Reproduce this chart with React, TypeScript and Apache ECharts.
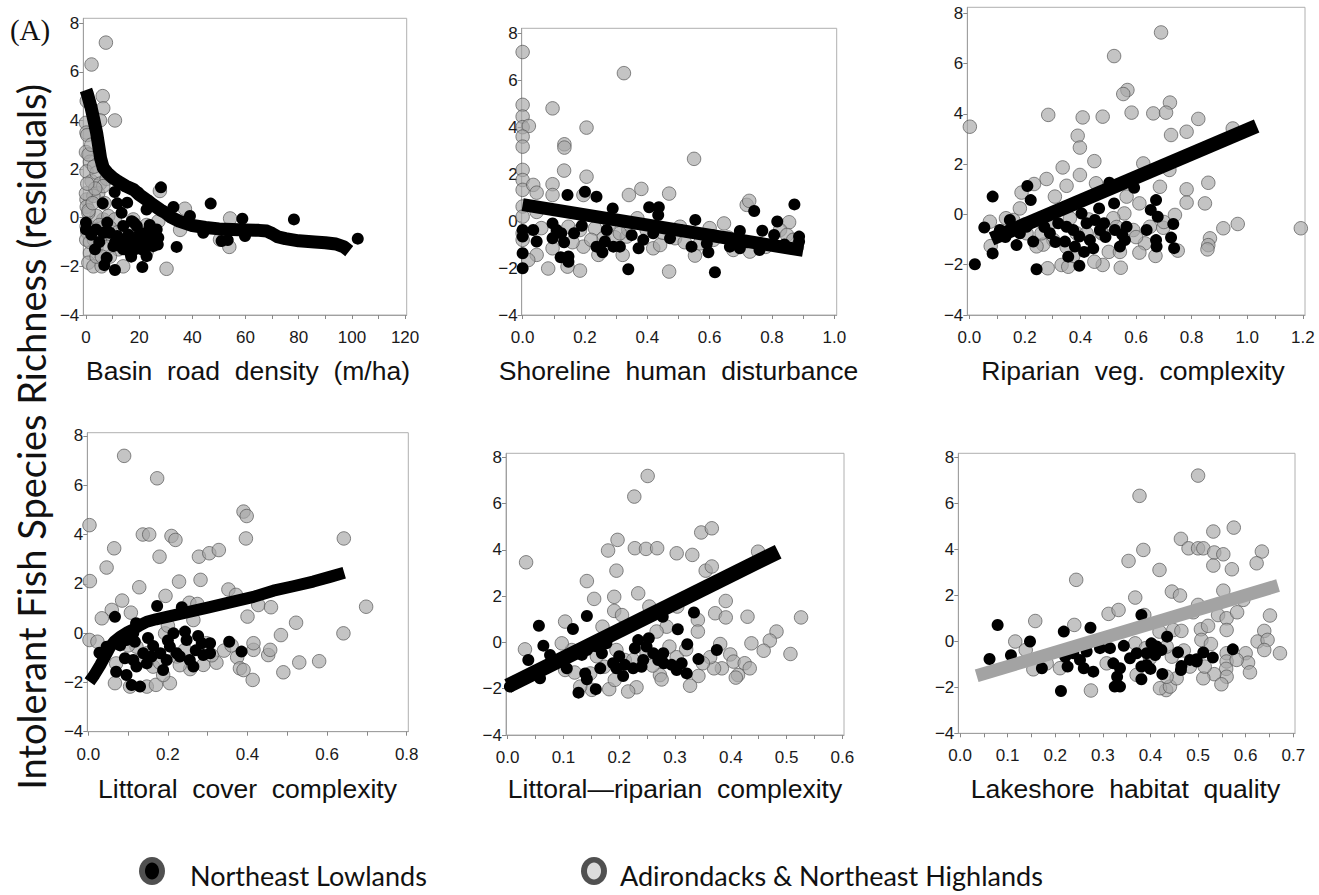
import React, { useEffect, useRef } from "react";
import * as echarts from "echarts";

// ---------- DATA ----------
const yTickLabels = [-4, -2, 0, 2, 4, 6, 8];

const xLabels1 = [0, 20, 40, 60, 80, 100, 120];
const xTicks1 = [0, 10, 20, 30, 40, 50, 60, 70, 80, 90, 100, 110, 120];
const xLabels2 = [0, 0.2, 0.4, 0.6, 0.8, 1.0];
const xTicks2 = [0, 0.1, 0.2, 0.3, 0.4, 0.5, 0.6, 0.7, 0.8, 0.9, 1.0];
const xLabels3 = [0, 0.2, 0.4, 0.6, 0.8, 1.0, 1.2];
const xTicks3 = [0, 0.1, 0.2, 0.3, 0.4, 0.5, 0.6, 0.7, 0.8, 0.9, 1.0, 1.1, 1.2];
const xLabels4 = [0, 0.2, 0.4, 0.6, 0.8];
const xTicks4 = [0, 0.1, 0.2, 0.3, 0.4, 0.5, 0.6, 0.7, 0.8];
const xLabels5 = [0, 0.1, 0.2, 0.3, 0.4, 0.5, 0.6];
const xTicks5 = [0, 0.05, 0.1, 0.15, 0.2, 0.25, 0.3, 0.35, 0.4, 0.45, 0.5, 0.55, 0.6];
const xLabels6 = [0, 0.1, 0.2, 0.3, 0.4, 0.5, 0.6, 0.7];
const xTicks6 = [0, 0.05, 0.1, 0.15, 0.2, 0.25, 0.3, 0.35, 0.4, 0.45, 0.5, 0.55, 0.6, 0.65, 0.7];

const xTitles = [
  "Basin road density (m/ha)",
  "Shoreline human disturbance",
  "Riparian veg. complexity",
  "Littoral cover complexity",
  "Littoral\u2014riparian complexity",
  "Lakeshore habitat quality",
];
const yTitle = "Intolerant Fish Species Richness (residuals)";
const panelTag = "(A)";
const legendNames = ["Northeast Lowlands", "Adirondacks & Northeast Highlands"];

// Panel 1: Basin road density
const p1Gray = [
  [7.5, 7.2], [2.1, 6.3], [6.3, 5.0], [6.5, 4.5], [0.3, 4.8], [10.9, 4.0], [5.3, 4.0], [0, 3.9], [0.2, 3.5],
  [0.5, 3.4], [0, 2.7], [1.5, 2.3], [0.2, 1.9], [2.1, 1.5], [4.0, 1.85], [5.3, 1.4], [7.8, 1.6], [0.2, 0.75],
  [0.3, 0.45], [4.6, 1.0], [6.5, 1.3], [27.8, 1.1], [37.2, 0.37], [54.2, -0.03], [53.9, -1.2], [30.3, -2.1],
  [27.2, -0.15], [22.8, -0.3], [1.5, -1.45], [0.9, -1.85], [2.8, -2.0], [5.9, -2.0], [4.0, -1.2], [5.3, -0.9],
  [7.8, -0.6], [10.3, -0.9], [12.2, -1.3], [9.0, -1.6], [6.5, -0.07], [4.0, 0.07], [8.4, 0.07], [10.9, -0.07],
  [15.3, -0.6], [0.25, -0.35], [0.5, -0.6], [0.1, -0.9], [17.8, -0.07], [20.3, -0.6], [24.1, -0.9], [22.8, -1.4],
  [14.0, -2.0], [35.4, -0.5], [50.4, -0.9], [2.8, 0.9], [4.6, -0.6], [0.9, 0.2], [0, 1.0], [1, 0.3], [2, -0.5],
  [3, -0.9], [4, -1.6], [1.5, -1.0], [2.5, 0.6], [3.5, 1.2], [5, -0.3], [7, 0.6], [8, -1.2], [9, -0.4], [12, -0.6],
  [6, -1.6], [3, 2.1], [1, 2.6], [2, 3.0], [0.5, 1.4],
];
const p1Black = [
  [28.2, 1.25], [46.9, 0.58], [58.8, -0.04], [78.2, -0.07], [102.2, -0.86], [32.9, 0.44], [34.1, -1.2],
  [51.0, -0.96], [53.3, -0.92], [10.8, 1.06], [11.8, 0.59], [15.5, 0.62], [6.3, 0.59], [3.8, -0.48], [0, -0.2],
  [0, -0.48], [6.5, -0.62], [9.0, -0.62], [11.8, -0.75], [13.4, 0.2], [17.2, -0.14], [19.1, -0.34], [20.3, -0.62],
  [17.8, -0.89], [21.6, -0.89], [23.4, -1.17], [25.3, -1.17], [27.2, -0.82], [16.6, -1.44], [18.4, -1.3],
  [22.8, -1.58], [21.2, -2.03], [10.9, -2.15], [7.8, -1.65], [6.9, -1.95], [14.0, -0.34], [15.3, -1.03],
  [12.8, -1.17], [22.8, 0.34], [10.3, -1.17], [24.7, -0.62], [26.6, -0.48], [19.7, 1.03], [39.1, 0.07],
  [44.1, -0.62], [59.8, -0.75], [3.4, -1.3], [2, -0.7], [5, -1.0], [8, -0.2], [11, -1.0], [13, -0.9], [16, -0.7],
  [18, -0.2], [19, -1.1], [23, -0.6], [25, -0.9], [27, -1.1], [21, -1.3], [17, -1.6], [24, -0.3], [14, -1.3],
];
const p1Fit = [
  [0, 5.25], [0.5, 5.1], [1, 4.9], [2, 4.5], [3, 4.0], [4, 3.5], [5, 2.8], [5.5, 2.45], [6.5, 2.05], [8, 1.85],
  [10, 1.65], [12, 1.5], [15, 1.3], [18, 1.15], [20, 0.95], [23, 0.72], [25, 0.55], [28, 0.32], [30, 0.2],
  [32, 0.02], [35, -0.14], [40, -0.32], [45, -0.4], [50, -0.46], [55, -0.48], [60, -0.5], [65, -0.52],
  [68, -0.55], [70, -0.65], [72, -0.78], [75, -0.86], [80, -0.95], [86, -1.0], [90, -1.03], [94, -1.08],
  [97, -1.2], [99, -1.37],
];

// Panel 2: Shoreline human disturbance
const p2Gray = [
  [0.0, 7.2], [0.325, 6.3], [0.0, 4.95], [0.0, 4.45], [0.0, 4.0], [0.02, 4.05], [0.0, 3.6], [0.0, 3.17],
  [0.096, 4.8], [0.205, 3.98], [0.134, 3.27], [0.134, 3.13], [0.133, 2.15], [0.55, 2.65], [0.205, 1.89],
  [0.0, 2.18], [0.0, 1.75], [0.0, 1.33], [0.034, 1.54], [0.045, 1.21], [0.096, 1.57], [0.096, 1.11],
  [0.195, 1.11], [0.341, 1.11], [0.381, 1.37], [0.47, 1.17], [0.719, 0.69], [0.727, 0.86], [0.855, -0.05],
  [0.646, -0.1], [0.0, 0.62], [0.0, 0.19], [0.045, 0.39], [0.147, -0.24], [0.184, -0.38], [0.232, -0.31],
  [0.259, -0.73], [0.296, -0.69], [0.334, -0.66], [0.339, -0.38], [0.368, 0.12], [0.398, -0.38], [0.419, -1.16],
  [0.441, -1.02], [0.489, -0.73], [0.505, -0.24], [0.553, -1.47], [0.47, -2.15], [0.321, -1.44], [0.243, -1.44],
  [0.195, -1.09], [0.184, -2.11], [0.144, -1.94], [0.082, -2.02], [0.096, -1.16], [0.045, -1.44], [0.018, -1.66],
  [0.0, -0.52], [0.0, -0.8], [0.612, -0.8], [0.676, -1.23], [0.729, -1.3], [0.826, -0.38], [0.848, -0.59],
  [0.569, -0.95], [0.868, -0.8], [0.312, -0.52], [0.06, -0.3], [0.11, -0.6], [0.16, -0.9], [0.22, -0.8],
  [0.28, -0.1], [0.45, -0.5], [0.52, -0.9], [0.6, -0.3], [0.66, -0.7], [0.78, -1.1], [0.88, -1.1],
];
const p2Black = [
  [0.144, 1.11], [0.2, 1.25], [0.237, 1.04], [0.289, 0.54], [0.406, 0.59], [0.437, 0.59], [0.435, 0.26],
  [0.554, 0.05], [0.743, 0.43], [0.872, 0.71], [0.817, -0.02], [0.769, -0.41], [0.697, -0.42], [0.887, -0.66],
  [0.887, -0.87], [0.0, -1.37], [0.0, -2.01], [0.0, -0.38], [0.0, -0.66], [0.034, -0.38], [0.045, -0.87],
  [0.096, -0.1], [0.096, -0.73], [0.109, -0.38], [0.124, -0.52], [0.133, -0.9], [0.122, -1.54], [0.147, -1.51],
  [0.147, -1.73], [0.165, -0.52], [0.237, -1.09], [0.256, -1.33], [0.264, -0.87], [0.291, -1.09], [0.312, -1.09],
  [0.339, -2.05], [0.372, -1.16], [0.387, -0.8], [0.419, -0.52], [0.473, -0.73], [0.542, -1.09], [0.591, -0.95],
  [0.596, -1.33], [0.617, -2.18], [0.665, -1.09], [0.697, -1.16], [0.76, -1.23], [0.807, -0.59], [0.27, -0.38],
  [0.505, -0.38], [0.61, -0.6], [0.72, -0.9], [0.84, -1.0], [0.35, -0.6], [0.19, -0.2],
];
const p2Fit = [[0.0, 0.7], [0.9, -1.25]];

// Panel 3: Riparian vegetation complexity
const p3Gray = [
  [0.69, 7.24], [0.521, 6.3], [0.569, 4.95], [0.554, 4.79], [0.722, 4.45], [0.662, 4.02], [0.708, 4.05],
  [0.584, 4.05], [0.824, 3.8], [0.782, 3.29], [0.726, 3.16], [0.284, 3.96], [0.408, 3.86], [0.48, 3.89],
  [0.39, 3.13], [0.398, 2.66], [0.002, 3.49], [0.948, 3.42], [0.45, 2.12], [0.336, 1.87], [0.398, 1.57],
  [0.278, 1.41], [0.233, 1.21], [0.35, 1.14], [0.456, 1.24], [0.626, 2.03], [0.72, 1.77], [0.686, 1.1],
  [0.86, 1.26], [0.782, 1.0], [0.188, 0.87], [0.308, 0.71], [0.566, 0.71], [0.612, 0.44], [0.782, 0.47],
  [0.848, 0.44], [0.914, -0.55], [0.966, -0.38], [1.193, -0.55], [0.866, -0.95], [0.86, -1.22], [0.857, -1.39],
  [0.74, -0.02], [0.698, -0.53], [0.65, -0.49], [0.632, -1.15], [0.612, -1.52], [0.67, -1.65], [0.75, -1.44],
  [0.558, 0.04], [0.59, -0.62], [0.518, -0.15], [0.48, -0.75], [0.502, -1.49], [0.48, -2.01], [0.45, -1.88],
  [0.545, -2.12], [0.542, -1.49], [0.362, -0.15], [0.386, -0.75], [0.332, -2.01], [0.356, -2.08], [0.282, -2.14],
  [0.302, -1.01], [0.266, -1.2], [0.242, -1.27], [0.26, -0.75], [0.206, -0.75], [0.158, -0.22], [0.132, -0.15],
  [0.074, -0.29], [0.077, -1.26], [0.182, 0.24], [0.422, -0.75], [0.374, -1.65], [0.476, -0.75], [0.2, -0.4],
  [0.3, -0.3], [0.43, -0.2], [0.53, -0.5], [0.6, -0.9], [0.7, -0.3], [0.35, -1.3],
];
const p3Black = [
  [0.02, -1.98], [0.054, -0.52], [0.084, 0.71], [0.084, -1.55], [0.209, 1.13], [0.221, 0.57], [0.242, -2.18],
  [0.396, -2.04], [0.356, -1.68], [0.413, -1.49], [0.504, 1.26], [0.593, 1.06], [0.521, 0.44], [0.672, 0.57],
  [0.653, 0.18], [0.678, -0.09], [0.734, -0.38], [0.726, -0.92], [0.737, -1.34], [0.672, -1.02], [0.674, -1.28],
  [0.638, -0.62], [0.566, -0.49], [0.56, -1.02], [0.542, -1.28], [0.524, -0.62], [0.485, -0.35], [0.47, -0.62],
  [0.452, -0.22], [0.467, 0.24], [0.446, -1.35], [0.434, -1.02], [0.404, 0.04], [0.396, -0.88], [0.374, -0.62],
  [0.35, -0.49], [0.38, -1.28], [0.344, -1.08], [0.32, -0.35], [0.29, -0.75], [0.23, -1.08], [0.206, -0.49],
  [0.182, -0.75], [0.17, -1.22], [0.146, -0.22], [0.158, -0.62], [0.11, -0.62], [0.422, -0.35], [0.13, -0.9],
  [0.27, -0.5], [0.31, -1.1], [0.49, -0.9], [0.55, -0.8],
];
const p3Fit = [[0.08, -0.97], [1.034, 3.52]];

// Panel 4: Littoral cover complexity
const p4Gray = [
  [0.09, 7.19], [0.173, 6.28], [0.39, 4.93], [0.398, 4.75], [0.003, 4.38], [0.137, 4.0], [0.153, 4.0],
  [0.209, 3.94], [0.219, 3.78], [0.396, 3.84], [0.642, 3.84], [0.065, 3.44], [0.179, 3.1], [0.278, 3.1],
  [0.304, 3.24], [0.328, 3.37], [0.046, 2.66], [0.004, 2.11], [0.128, 1.86], [0.228, 2.09], [0.282, 2.16],
  [0.085, 1.32], [0.194, 1.51], [0.059, 0.94], [0.107, 0.83], [0.034, 0.6], [0.254, 1.23], [0.274, 1.18],
  [0.352, 1.77], [0.371, 1.55], [0.427, 1.14], [0.459, 1.05], [0.4, 0.67], [0.522, 0.42], [0.484, -0.08],
  [0.641, -0.01], [0.698, 1.07], [0.193, -0.01], [0.003, -0.28], [0.023, -0.35], [0.07, -1.23], [0.067, -2.03],
  [0.105, -2.17], [0.147, -2.17], [0.17, -2.1], [0.205, -2.03], [0.188, -1.7], [0.163, -1.36], [0.222, -0.95],
  [0.256, -1.46], [0.289, -1.29], [0.322, -1.2], [0.341, -0.71], [0.374, -0.98], [0.381, -1.43], [0.39, -1.5],
  [0.415, -0.68], [0.415, -0.41], [0.452, -0.89], [0.457, -0.68], [0.49, -1.59], [0.53, -1.19], [0.58, -1.14],
  [0.413, -1.9], [0.243, -0.68], [0.147, -0.82], [0.121, -0.55], [0.264, 0.53], [0.297, -0.41], [0.1, -0.5],
  [0.13, -1.1], [0.18, -1.2], [0.23, -1.3], [0.31, -0.9], [0.36, -0.5], [0.2, 0.3],
];
const p4Black = [
  [0.067, 0.66], [0.173, 1.1], [0.235, 1.05], [0.028, -0.8], [0.046, -0.55], [0.07, -1.57], [0.096, -1.7],
  [0.109, -2.11], [0.13, -2.17], [0.092, -1.02], [0.113, -1.09], [0.121, -1.36], [0.117, -0.35], [0.138, -0.82],
  [0.163, -0.52], [0.181, -0.82], [0.188, -1.5], [0.205, -0.55], [0.222, -0.82], [0.214, -0.01], [0.243, 0.06],
  [0.23, -0.95], [0.255, -1.09], [0.264, -1.36], [0.276, -0.12], [0.285, -0.41], [0.289, -0.89], [0.306, -0.41],
  [0.306, -0.82], [0.354, -0.35], [0.385, -0.75], [0.147, -1.23], [0.113, -0.01], [0.096, -0.28], [0.247, -0.28],
  [0.159, -0.95], [0.197, -1.09], [0.12, 0.4], [0.08, -0.5], [0.15, -0.2], [0.27, -0.7], [0.2, -0.3],
];
const p4Fit = [
  [0.003, -1.97], [0.015, -1.7], [0.03, -1.3], [0.045, -0.85], [0.055, -0.55], [0.065, -0.35], [0.08, -0.15],
  [0.1, 0.05], [0.113, 0.15], [0.13, 0.32], [0.147, 0.46], [0.17, 0.56], [0.2, 0.67], [0.25, 0.85], [0.3, 1.03],
  [0.364, 1.28], [0.415, 1.47], [0.465, 1.72], [0.515, 1.9], [0.565, 2.09], [0.607, 2.28], [0.643, 2.45],
];

// Panel 5: Littoral-riparian complexity
const p5Gray = [
  [0.251, 7.19], [0.227, 6.3], [0.347, 4.75], [0.366, 4.93], [0.197, 4.43], [0.18, 3.97], [0.228, 4.07],
  [0.248, 4.04], [0.268, 4.07], [0.303, 3.85], [0.331, 3.78], [0.449, 3.92], [0.033, 3.46], [0.195, 3.1],
  [0.355, 3.1], [0.366, 3.28], [0.142, 2.65], [0.234, 2.12], [0.191, 1.97], [0.155, 1.88], [0.254, 1.55],
  [0.391, 1.79], [0.191, 1.36], [0.205, 1.18], [0.372, 1.26], [0.391, 1.08], [0.341, 0.97], [0.43, 1.11],
  [0.526, 1.08], [0.103, 0.9], [0.17, 0.68], [0.285, 0.68], [0.267, 0.47], [0.304, 1.55], [0.341, 0.47],
  [0.482, 0.47], [0.437, -0.04], [0.47, 0.08], [0.381, -0.07], [0.459, -0.36], [0.507, -0.5], [0.399, -0.52],
  [0.405, -0.83], [0.425, -0.9], [0.434, -1.12], [0.413, -1.41], [0.409, -1.52], [0.384, -1.12], [0.37, -1.12],
  [0.363, -0.64], [0.342, -1.45], [0.327, -1.87], [0.29, -0.18], [0.303, -0.64], [0.273, -1.41], [0.276, -1.6],
  [0.231, -1.94], [0.216, -2.12], [0.182, -2.02], [0.151, -2.05], [0.13, -1.91], [0.148, -1.34], [0.192, -1.62],
  [0.21, -0.76], [0.225, -0.76], [0.103, -1.19], [0.115, -0.33], [0.097, -0.04], [0.031, -0.3], [0.173, -1.05],
  [0.249, -0.47], [0.195, -0.33], [0.12, -1.3], [0.16, -0.6], [0.26, -1.0], [0.32, -0.3], [0.35, -0.9],
];
const p5Black = [
  [0.056, 0.72], [0.117, 0.58], [0.142, 1.14], [0.278, 1.11], [0.334, 1.29], [0.305, 0.57], [0.253, 0.18],
  [0.234, 0.1], [0.322, -0.08], [0.375, -0.33], [0.342, -0.72], [0.037, -0.76], [0.064, -0.14], [0.058, -1.55],
  [0.004, -1.91], [0.127, -2.17], [0.158, -2.02], [0.142, -1.59], [0.139, -1.34], [0.106, -1.12], [0.076, -0.54],
  [0.133, -0.54], [0.142, -0.33], [0.16, -0.18], [0.169, -0.47], [0.177, -0.04], [0.189, -0.9], [0.195, -1.12],
  [0.207, -1.45], [0.21, -0.97], [0.225, -1.12], [0.228, -0.25], [0.24, -1.05], [0.249, -0.18], [0.261, -0.47],
  [0.27, -0.76], [0.279, -0.47], [0.294, -0.97], [0.303, -1.19], [0.312, -0.9], [0.321, -1.34], [0.243, -0.76],
  [0.166, -1.12], [0.2, -0.6], [0.28, -0.9],
];
const p5Fit = [[0.0, -1.88], [0.485, 3.92]];

// Panel 6: Lakeshore habitat quality
const p6Gray = [
  [0.5, 7.2], [0.377, 6.32], [0.532, 4.77], [0.575, 4.94], [0.464, 4.45], [0.48, 4.04], [0.5, 4.04], [0.511, 4.04],
  [0.534, 3.86], [0.553, 3.78], [0.634, 3.9], [0.385, 3.97], [0.354, 3.49], [0.532, 3.29], [0.623, 3.39],
  [0.419, 3.1], [0.571, 3.13], [0.244, 2.67], [0.445, 2.16], [0.462, 1.99], [0.368, 1.9], [0.553, 2.2],
  [0.595, 1.8], [0.5, 1.58], [0.49, 1.26], [0.312, 1.19], [0.333, 1.36], [0.387, 1.14], [0.542, 1.14], [0.56, 1.0],
  [0.582, 1.26], [0.651, 1.12], [0.158, 0.88], [0.24, 0.71], [0.419, 0.42], [0.448, 0.49], [0.465, 0.45],
  [0.506, 0.52], [0.521, 0.67], [0.56, 0.49], [0.639, 0.45], [0.116, -0.01], [0.138, -0.38], [0.507, 0.06],
  [0.527, -0.12], [0.625, -0.01], [0.646, 0.06], [0.639, -0.38], [0.672, -0.52], [0.6, -0.52], [0.56, -0.52],
  [0.56, -0.88], [0.605, -0.93], [0.609, -1.35], [0.559, -1.2], [0.56, -1.54], [0.534, -1.43], [0.511, -1.61],
  [0.549, -1.87], [0.433, -2.12], [0.42, -2.04], [0.441, -1.97], [0.455, -1.61], [0.434, -1.54], [0.445, -0.67],
  [0.434, -0.23], [0.371, -1.46], [0.368, -0.09], [0.308, -0.96], [0.275, -2.14], [0.21, -1.17], [0.182, -0.96],
  [0.154, -1.22], [0.483, -1.1], [0.514, -1.1], [0.399, -0.74], [0.581, -0.81], [0.47, -0.4], [0.39, -0.3],
];
const p6Black = [
  [0.062, -0.77], [0.079, 0.71], [0.107, -0.61], [0.147, -0.01], [0.172, -1.17], [0.212, -2.16], [0.218, 0.42],
  [0.274, 0.59], [0.381, 1.14], [0.435, 0.2], [0.226, -1.1], [0.221, -0.67], [0.238, -0.52], [0.252, -0.81],
  [0.26, -1.17], [0.266, -0.45], [0.28, -1.32], [0.294, -0.3], [0.315, -0.3], [0.322, -0.96], [0.336, -1.17],
  [0.33, -1.54], [0.325, -1.97], [0.336, -1.97], [0.344, -0.2], [0.357, -0.74], [0.371, -0.52], [0.381, -1.1],
  [0.381, -1.65], [0.392, -1.03], [0.402, -0.09], [0.406, -0.38], [0.413, -0.23], [0.423, -0.38], [0.425, -1.42],
  [0.458, -0.48], [0.464, -1.25], [0.465, -1.07], [0.483, -0.81], [0.497, -0.78], [0.511, -0.49], [0.531, -0.71],
  [0.573, -0.35], [0.497, -0.88], [0.392, -0.52], [0.41, -0.6], [0.4, -1.2],
];
const p6Fit = [[0.035, -1.5], [0.668, 2.42]];

// ---------- LAYOUT ----------
const panels = [
  { gray: p1Gray, black: p1Black, fit: p1Fit, fitColor: "#000", fitWidth: 13, labels: xLabels1, ticks: xTicks1, dec: 0,
    box: [83.3, 18.3, 323.4, 296.7], xMin: -1, xMax: 120.6, yMax: 8.2, title: [248, 371] },
  { gray: p2Gray, black: p2Black, fit: p2Fit, fitColor: "#000", fitWidth: 13, labels: xLabels2, ticks: xTicks2, dec: 1,
    box: [521.7, 28.3, 315, 286.7], xMin: -0.003, xMax: 1.0077, yMax: 8.21, title: [678.5, 371] },
  { gray: p3Gray, black: p3Black, fit: p3Fit, fitColor: "#000", fitWidth: 14, labels: xLabels3, ticks: xTicks3, dec: 1,
    box: [967.3, 7.3, 337.7, 307.7], xMin: -0.0072, xMax: 1.208, yMax: 8.24, title: [1133, 371] },
  { gray: p4Gray, black: p4Black, fit: p4Fit, fitColor: "#000", fitWidth: 12, labels: xLabels4, ticks: xTicks4, dec: 1,
    box: [87.3, 432.7, 321, 299], xMin: -0.0025, xMax: 0.804, yMax: 8.13, title: [247.5, 789] },
  { gray: p5Gray, black: p5Black, fit: p5Fit, fitColor: "#000", fitWidth: 15, labels: xLabels5, ticks: xTicks5, dec: 1,
    box: [506, 453.3, 338, 281.7], xMin: -0.003, xMax: 0.603, yMax: 8.17, title: [675, 789] },
  { gray: p6Gray, black: p6Black, fit: p6Fit, fitColor: "#a3a3a3", fitWidth: 13, labels: xLabels6, ticks: xTicks6, dec: 1,
    box: [958.3, 453.3, 336.7, 280], xMin: -0.0036, xMax: 0.7036, yMax: 8.17, title: [1125.5, 789] },
];

const SANS = "Arial";
const spaced = (s: string) => s.split(" ").join(" \u00A0");
const minus = (s: string) => s.replace("-", "\u2212");

function buildOption() {
  const grid: any[] = [];
  const xAxis: any[] = [];
  const yAxis: any[] = [];
  const series: any[] = [];
  const graphic: any[] = [];

  panels.forEach((p, i) => {
    const [left, top, width, height] = p.box;
    grid.push({ left, top, width, height, show: true, borderColor: "#b0b0b0", borderWidth: 1, backgroundColor: "transparent" });
    xAxis.push({
      type: "value", gridIndex: i, min: p.xMin, max: p.xMax,
      axisLine: { show: true, onZero: false, lineStyle: { color: "#a0a0a0", width: 1 } },
      axisTick: { show: true, customValues: p.ticks, length: 4, lineStyle: { color: "#888" } },
      axisLabel: {
        show: true, customValues: p.labels, margin: 14, fontSize: 17, color: "#1a1a1a", fontFamily: SANS,
        formatter: (v: number) => v.toFixed(p.dec),
      },
      splitLine: { show: false },
    });
    yAxis.push({
      type: "value", gridIndex: i, min: -4, max: p.yMax,
      axisLine: { show: true, onZero: false, lineStyle: { color: "#a0a0a0", width: 1 } },
      axisTick: { show: true, customValues: yTickLabels, length: 4, lineStyle: { color: "#888" } },
      axisLabel: {
        show: true, customValues: yTickLabels, margin: 4, fontSize: 17, color: "#1a1a1a", fontFamily: SANS,
        formatter: (v: number) => minus(String(v)),
      },
      splitLine: { show: false },
    });
    series.push({
      type: "scatter", xAxisIndex: i, yAxisIndex: i, data: p.gray, symbol: "circle", symbolSize: 13.5, z: 2,
      itemStyle: { color: "rgba(168,168,168,0.85)", borderColor: "rgba(80,80,80,0.85)", borderWidth: 1 },
      silent: true,
    });
    series.push({
      type: "scatter", xAxisIndex: i, yAxisIndex: i, data: p.black, symbol: "circle", symbolSize: 12, z: 3,
      itemStyle: { color: "#000", opacity: 1 },
      silent: true,
    });
    series.push({
      type: "line", xAxisIndex: i, yAxisIndex: i, data: p.fit, symbol: "none", z: 4, silent: true,
      lineStyle: { color: p.fitColor, width: p.fitWidth, cap: "butt", join: "round", opacity: 1 },
    });
    graphic.push({
      type: "text", x: p.title[0], y: p.title[1], z: 10,
      style: {
        text: spaced(xTitles[i]), fill: "#111", align: "center", verticalAlign: "middle",
        fontSize: 26.5, fontFamily: SANS,
      },
    });
  });

  graphic.push({
    type: "text", x: 31, y: 437, rotation: Math.PI / 2, z: 10,
    style: { text: yTitle, fill: "#111", align: "center", verticalAlign: "middle", fontSize: 38, fontFamily: "Lato" },
  });
  graphic.push({
    type: "text", x: 30, y: 30, z: 10,
    style: { text: panelTag, fill: "#111", align: "center", verticalAlign: "middle", fontSize: 29, fontFamily: "Liberation Serif" },
  });
  // legend
  graphic.push({ type: "ellipse", shape: { cx: 152, cy: 871, rx: 13, ry: 14 }, style: { fill: "#505050" }, z: 10 });
  graphic.push({ type: "ellipse", shape: { cx: 152, cy: 871, rx: 7, ry: 8.5 }, style: { fill: "#000" }, z: 11 });
  graphic.push({
    type: "text", x: 190, y: 875, z: 10,
    style: { text: legendNames[0], fill: "#111", align: "left", verticalAlign: "middle", fontSize: 27, fontFamily: "Lato" },
  });
  graphic.push({ type: "ellipse", shape: { cx: 594, cy: 871, rx: 13, ry: 14 }, style: { fill: "#505050" }, z: 10 });
  graphic.push({ type: "ellipse", shape: { cx: 594, cy: 871, rx: 7, ry: 8.5 }, style: { fill: "#dcdcdc" }, z: 11 });
  graphic.push({
    type: "text", x: 620, y: 875, z: 10,
    style: { text: legendNames[1], fill: "#111", align: "left", verticalAlign: "middle", fontSize: 27, fontFamily: "Lato" },
  });

  return {
    animation: false, backgroundColor: "#fff",
    textStyle: { fontFamily: SANS, fontSize: 17 },
    grid, xAxis, yAxis, series, graphic,
  };
}

export default function App() {
  const ref = useRef<HTMLDivElement>(null);
  useEffect(() => {
    document.body.style.margin = "0";
    if (!ref.current) return;
    const chart = echarts.init(ref.current, undefined, { renderer: "svg" });
    chart.setOption(buildOption() as any);
    return () => chart.dispose();
  }, []);
  return (
    <div
      ref={ref}
      style={{ position: "fixed", left: 0, top: 0, width: "1319px", height: "895px", background: "#fff" }}
    />
  );
}
